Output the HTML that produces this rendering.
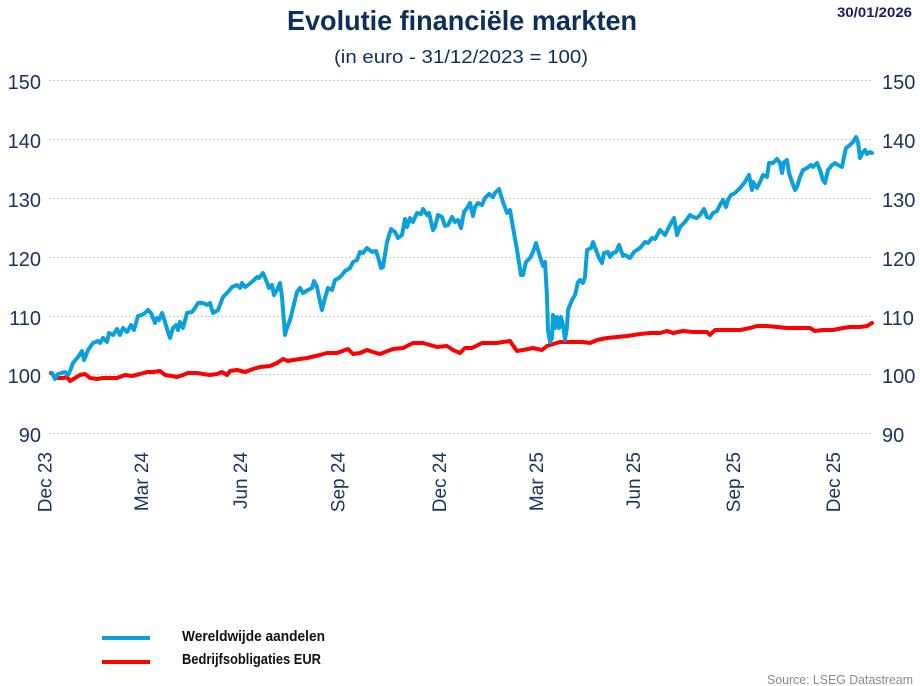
<!DOCTYPE html>
<html><head><meta charset="utf-8"><style>
html,body{margin:0;padding:0;background:#fff;}
svg{display:block;}
</style></head><body>
<svg width="920" height="686" viewBox="0 0 920 686" xmlns="http://www.w3.org/2000/svg" font-family="'Liberation Sans', sans-serif">
<rect width="920" height="686" fill="#fff"/>
<text x="287" y="30" font-size="28" font-weight="bold" fill="#0d2f5c" textLength="350" lengthAdjust="spacingAndGlyphs">Evolutie financiële markten</text>
<text x="334" y="63" font-size="18" fill="#0d2f5c" textLength="254" lengthAdjust="spacingAndGlyphs">(in euro - 31/12/2023 = 100)</text>
<text x="837" y="17" font-size="13.5" font-weight="bold" fill="#1c1c6b" textLength="75" lengthAdjust="spacingAndGlyphs">30/01/2026</text>
<g stroke="#c8c8c8" stroke-width="1" stroke-dasharray="2,2">
<line x1="49" y1="80.5" x2="872" y2="80.5"/>
<line x1="49" y1="139.5" x2="872" y2="139.5"/>
<line x1="49" y1="198.5" x2="872" y2="198.5"/>
<line x1="49" y1="257.5" x2="872" y2="257.5"/>
<line x1="49" y1="316.5" x2="872" y2="316.5"/>
<line x1="49" y1="374.5" x2="872" y2="374.5"/>
<line x1="49" y1="433.5" x2="872" y2="433.5"/>
</g>
<g font-size="20" fill="#1b3560" text-anchor="end">
<text x="41" y="89">150</text>
<text x="41" y="148">140</text>
<text x="41" y="207">130</text>
<text x="41" y="266">120</text>
<text x="41" y="325">110</text>
<text x="41" y="383">100</text>
<text x="41" y="442">90</text>
</g>
<g font-size="20" fill="#1b3560">
<text x="882" y="89">150</text>
<text x="882" y="148">140</text>
<text x="882" y="207">130</text>
<text x="882" y="266">120</text>
<text x="882" y="325">110</text>
<text x="882" y="383">100</text>
<text x="882" y="442">90</text>
</g>
<g font-size="19" fill="#1b3560" text-anchor="end">
<text transform="translate(51.5,452) rotate(-90)">Dec 23</text>
<text transform="translate(148,452) rotate(-90)">Mar 24</text>
<text transform="translate(247,452) rotate(-90)">Jun 24</text>
<text transform="translate(344.5,452) rotate(-90)">Sep 24</text>
<text transform="translate(446,452) rotate(-90)">Dec 24</text>
<text transform="translate(543,452) rotate(-90)">Mar 25</text>
<text transform="translate(640,452) rotate(-90)">Jun 25</text>
<text transform="translate(740,452) rotate(-90)">Sep 25</text>
<text transform="translate(840,452) rotate(-90)">Dec 25</text>
</g>
<polyline fill="none" stroke="#ff0000" stroke-width="4" stroke-linejoin="round" stroke-linecap="round" points="51,373 57,378 63,378 67,377 70,381 75,378 80,375 85,374 90,378 97,379 103,378 110,378 117,378 125,375 132,376 140,374 147,372 153,372 160,371 165,375 172,376 177,377 183,375 188,373 197,373 203,374 210,375 217,374 222,372 227,375 230,371 237,370 245,372 253,369 260,367 270,366 277,363 283,359 288,361 293,360 300,359 307,358 320,355 327,353 337,353 348,349 353,354 360,353 367,350 373,352 380,354 385,352 393,349 403,348 413,343 423,343 430,345 437,347 447,346 453,350 460,353 465,348 472,348 482,343 490,343 497,343 503,342 510,341 514,347 517,351 523,350 533,348 542,350 547,346 550,345 560,342 573,342 583,342 590,343 597,340 607,338 617,337 627,336 640,334 650,333 660,333 667,331 673,333 683,331 693,332 707,332 710,335 715,330 727,330 740,330 750,328 757,326 767,326 777,327 787,328 800,328 810,328 815,331 823,330 833,330 843,328 850,327 860,327 867,326 872,323"/>
<polyline fill="none" stroke="#0aa0de" stroke-width="4" stroke-linejoin="round" stroke-linecap="round" points="52,373 55,379 58,374 65,372 68,375 70,371 73,363 78,357 82,351 84,360 88,350 93,343 98,341 100,343 103,338 107,342 109,333 113,335 117,329 120,335 123,328 127,332 131,325 134,330 138,316 142,315 145,313 148,310 151,313 155,323 157,318 159,320 162,313 165,322 168,332 170,338 173,328 176,325 178,330 180,322 183,328 187,313 192,312 195,308 198,303 203,303 207,305 210,303 213,313 218,310 223,297 227,293 232,287 237,285 240,288 242,283 245,287 248,285 253,281 257,277 259,278 263,273 266,280 269,288 272,285 274,295 277,290 280,283 282,297 285,335 287,328 290,320 293,308 297,292 300,288 303,293 308,290 312,288 314,281 317,287 319,297 322,310 325,298 328,288 332,290 335,280 339,278 342,275 345,271 350,268 353,262 357,260 360,252 363,253 367,248 372,252 376,251 378,257 381,268 383,267 387,242 391,229 395,232 398,238 402,235 405,219 407,227 410,218 413,222 417,213 421,214 423,209 427,215 429,213 433,230 435,227 438,215 442,217 445,226 448,225 452,217 455,222 458,220 461,228 464,212 467,208 470,203 473,216 475,207 478,203 482,205 485,198 489,194 493,197 495,193 499,189 503,202 507,213 510,210 514,233 517,250 521,275 523,275 526,262 530,258 533,252 536,243 538,250 541,260 543,266 545,262 547,297 548,330 550,342 552,338 553,315 555,328 557,317 559,328 561,317 563,325 565,340 567,327 568,310 572,300 575,295 578,282 580,280 583,283 585,277 587,250 591,248 593,242 596,250 599,258 602,263 604,253 608,252 610,257 613,253 616,252 619,245 623,256 625,255 630,258 634,252 640,248 645,242 648,243 652,238 655,239 660,230 665,235 670,225 674,218 677,235 680,227 685,222 690,215 693,217 697,218 700,215 704,209 707,217 710,218 713,213 717,211 720,205 723,200 726,207 728,200 731,195 735,193 740,188 745,182 749,175 752,190 753,182 757,188 760,182 763,175 767,177 769,163 773,163 777,159 780,163 782,173 784,162 787,160 789,173 792,182 795,190 797,187 800,177 803,170 807,168 811,165 813,167 817,163 820,170 823,180 825,183 828,170 832,165 835,163 838,165 842,167 844,157 846,148 850,145 853,142 856,137 858,142 860,158 863,152 865,150 867,154 870,152 872,153"/>
<line x1="102" y1="638" x2="150" y2="638" stroke="#0aa0de" stroke-width="4"/>
<line x1="102" y1="662" x2="150" y2="662" stroke="#ff0000" stroke-width="4"/>
<text x="182" y="641" font-size="14.5" font-weight="bold" fill="#111" textLength="143" lengthAdjust="spacingAndGlyphs">Wereldwijde aandelen</text>
<text x="182" y="664" font-size="14.5" font-weight="bold" fill="#111" textLength="139" lengthAdjust="spacingAndGlyphs">Bedrijfsobligaties EUR</text>
<text x="767" y="684" font-size="13" fill="#8c8c8c" textLength="146" lengthAdjust="spacingAndGlyphs">Source: LSEG Datastream</text>
</svg>
</body></html>
